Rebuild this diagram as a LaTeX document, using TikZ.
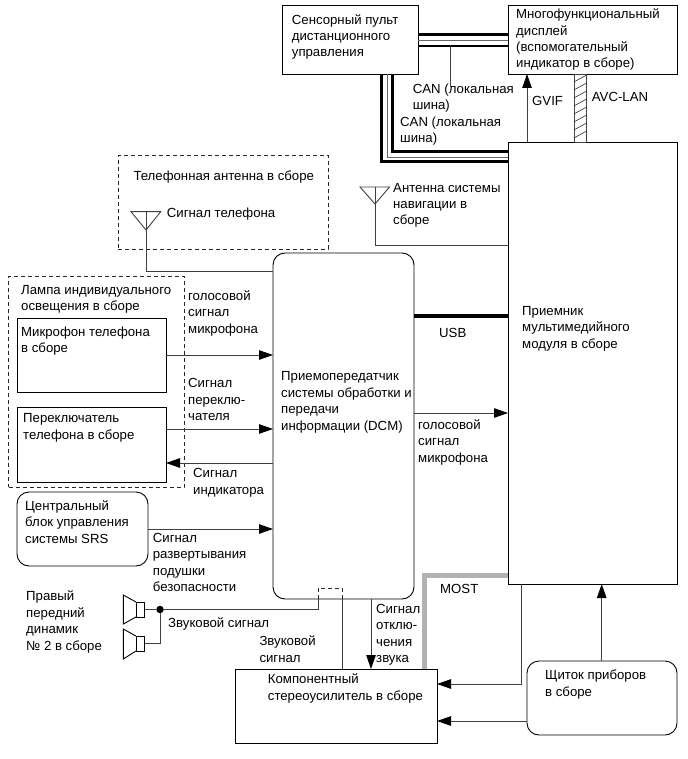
\documentclass[tikz,border=0pt]{standalone}
\usepackage{fontspec}
\setmainfont{Liberation Sans}
\usetikzlibrary{arrows.meta}
\tikzset{
  box/.style={draw=black, line width=0.9pt, inner sep=0pt, outer sep=0pt},
  rbox/.style={box, rounded corners=12pt},
  dashbox/.style={draw=black!85, line width=0.9pt, dash pattern=on 4pt off 3pt, inner sep=0pt, outer sep=0pt},
  lbl/.style={anchor=base west, align=left, inner sep=0pt, font=\fontsize{13.2}{16.4}\selectfont},
  wire/.style={draw=black!75, line width=0.9pt},
  arrowwire/.style={wire, -{Triangle[length=14pt,width=9.5pt,color=black]}},
  canthick/.style={draw=black, line width=2.6pt},
  canthin/.style={draw=black!60, line width=0.6pt},
}
\begin{document}
\begin{tikzpicture}[x=1pt, y=-1pt]
\useasboundingbox (0,0) rectangle (687,759);

% Draw the blocks
\node[box, minimum width=136pt, minimum height=69pt] (sensor) at (350,39.5) {};
\node[box, minimum width=169pt, minimum height=69pt] (display) at (592.5,39.5) {};
\node[box, minimum width=169pt, minimum height=442pt] (receiver) at (592.5,363) {};
\node[rbox, minimum width=141pt, minimum height=346pt] (dcm) at (343.5,426) {};
\node[dashbox, minimum width=210pt, minimum height=93.5pt] (antbox) at (223,202.25) {};
\node[dashbox, minimum width=175.5pt, minimum height=211pt] (lamp) at (96.25,381.5) {};
\node[box, minimum width=149pt, minimum height=74pt] (mic) at (91.5,355) {};
\node[box, minimum width=149pt, minimum height=75pt] (switch) at (91.5,444.5) {};
\node[rbox, minimum width=131pt, minimum height=74pt] (srs) at (82.5,529) {};
\node[box, minimum width=201.5pt, minimum height=74pt] (amp) at (336.25,706) {};
\node[rbox, minimum width=150pt, minimum height=74pt] (panel) at (602,698) {};

% Block texts
\node[lbl] (sensortxt) at (291.7,57) {Сенсорный пульт\\дистанционного\\управления};
\node[lbl] (displaytxt) at (516,68) {Многофункциональный\\дисплей\\(вспомогательный\\индикатор в сборе)};
\node[lbl] (receivertxt) at (522,348) {Приемник\\мультимедийного\\модуля в сборе};
\node[lbl] (dcmtxt) at (281,430) {Приемопередатчик\\системы обработки и\\передачи\\информации (DCM)};
\node[lbl] (anttxt) at (133.3,181) {Телефонная антенна в сборе};
\node[lbl] (lamptxt) at (21,310.7) {Лампа индивидуального\\освещения в сборе};
\node[lbl] (mictxt) at (21,352.7) {Микрофон телефона\\в сборе};
\node[lbl] (switchtxt) at (23,439) {Переключатель\\телефона в сборе};
\node[lbl] (srstxt) at (25,543) {Центральный\\блок управления\\системы SRS};
\node[lbl] (amptxt) at (267.7,700) {Компонентный\\стереоусилитель в сборе};
\node[lbl] (paneltxt) at (545,696) {Щиток приборов\\в сборе};
\node[lbl] (spktxt) at (26,650) {Правый\\передний\\динамик\\№ 2 в сборе};

% Signal labels
\node[lbl] (can1txt) at (412.7,110) {CAN (локальная\\шина)};
\node[lbl] (can2txt) at (400,143) {CAN (локальная\\шина)};
\node[lbl] (gviftxt) at (532,106) {GVIF};
\node[lbl] (avctxt) at (591.7,102) {AVC-LAN};
\node[lbl] (navtxt) at (393,225) {Антенна системы\\навигации в\\сборе};
\node[lbl] (phonetxt) at (166.7,218) {Сигнал телефона};
\node[lbl] (voicetxt) at (188,333) {голосовой\\сигнал\\микрофона};
\node[lbl] (swsigtxt) at (188,420.7) {Сигнал\\переклю-\\чателя};
\node[lbl] (indtxt) at (193,494) {Сигнал\\индикатора};
\node[lbl] (airbagtxt) at (152.7,591.7) {Сигнал\\развертывания\\подушки\\безопасности};
\node[lbl] (usbtxt) at (439,337) {USB};
\node[lbl] (voice2txt) at (418,462) {голосовой\\сигнал\\микрофона};
\node[lbl] (soundtxt) at (168,627) {Звуковой сигнал};
\node[lbl] (sound2txt) at (259.3,662) {Звуковой\\сигнал};
\node[lbl] (mutetxt) at (376,662.7) {Сигнал\\отклю-\\чения\\звука};
\node[lbl] (mosttxt) at (440,593) {MOST};

% CAN buses
\draw[canthick] (sensor.east |- 0,34.5) -- (display.west |- 0,34.5);
\draw[canthin] (sensor.east |- 0,40.5) -- (display.west |- 0,40.5);
\draw[canthick] (sensor.east |- 0,46) -- (display.west |- 0,46);
\draw[canthick, line width=3pt] (381.7,0 |- sensor.south) |- (receiver.west |- 0,162);
\draw[canthin] (387,0 |- sensor.south) |- (receiver.west |- 0,157);
\draw[canthick] (392.3,0 |- sensor.south) |- (receiver.west |- 0,151.5);
\coordinate (canlead) at (450,87);
\draw[wire, line width=0.6pt] (canlead |- 0,46) -- (canlead);

% GVIF and hatched AVC-LAN
\draw[arrowwire] (527,0 |- receiver.north) -- (527,0 |- display.south);
\node[box, draw=black!75, minimum width=12.6pt, minimum height=68pt] (avc) at (580.3,108) {};
\foreach \y in {82,90,...,138} {
  \draw[wire, line width=0.7pt] (avc.west |- 0,\y) -- (avc.east |- 0,\y-7);
}

% Antennas
\coordinate (navant) at (375,187);
\draw[wire] (360,187) -- (389.5,187) -- (375,204) -- cycle;
\draw[wire] (navant) |- (receiver.west |- 0,245);
\coordinate (phoneant) at (146,211.7);
\draw[wire] (131,211.7) -- (160.7,211.7) -- (146,230) -- cycle;
\draw[wire] (phoneant) |- (dcm.west |- 0,271);

% Signals into and out of the DCM
\draw[arrowwire] (mic.east) -- (dcm.west |- mic.east);
\draw[arrowwire] (switch.east |- 0,429) -- (dcm.west |- 0,429);
\draw[arrowwire] (dcm.west |- 0,463) -- (switch.east |- 0,463);
\draw[arrowwire] (srs.east) -- (dcm.west |- srs.east);
\draw[arrowwire] (dcm.east |- 0,413) -- (receiver.west |- 0,413);
\draw[draw=black, line width=4pt] (dcm.east |- 0,316) -- (receiver.west |- 0,316);

% Speakers
\node[box, minimum width=8.7pt, minimum height=15pt] (spka) at (140.3,609.5) {};
\node[box, minimum width=8.7pt, minimum height=15pt] (spkb) at (140.3,643.5) {};
\draw[box] (spka.north west) -- (123.3,595) -- (123.3,624) -- (spka.south west);
\draw[box] (spkb.north west) -- (123.3,629) -- (123.3,659) -- (spkb.south west);
\node[circle, fill=black, minimum size=7.5pt, inner sep=0pt] (jct) at (160,609.5) {};
\draw[wire] (spka.east) -- (jct);
\draw[wire] (spkb.east) -| (jct);
\coordinate (dcmin) at (318,599);
\coordinate (ampin) at (342,588);
\draw[wire] (jct) -| (dcmin);
\draw[dashbox] (dcmin) |- (ampin) -- (342,599);
\draw[wire] (342,599) -- (342,0 |- amp.north);

% Amplifier connections
\draw[arrowwire] (371,0 |- dcm.south) -- (371,0 |- amp.north);
\draw[draw=black!30, line width=5pt] (424,0 |- amp.north) |- (receiver.west |- 0,575);
\draw[arrowwire] (521.7,0 |- receiver.south) |- (amp.east |- 0,684);
\draw[arrowwire] (panel.west |- 0,721) -- (amp.east |- 0,721);
\draw[arrowwire] (601.7,0 |- panel.north) -- (601.7,0 |- receiver.south);
\end{tikzpicture}
\end{document}
